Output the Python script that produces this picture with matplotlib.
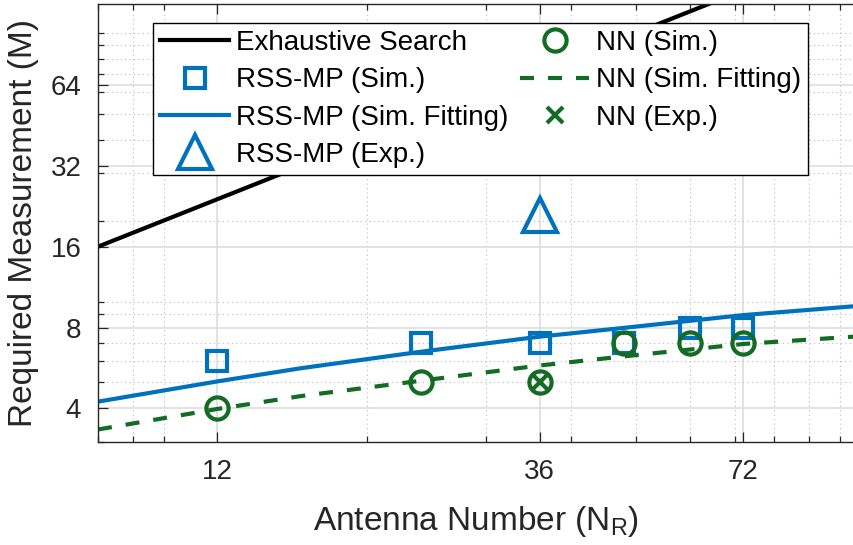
import numpy as np
import matplotlib
matplotlib.use('Agg')
import matplotlib.pyplot as plt
from matplotlib.ticker import FixedLocator, FixedFormatter, LogLocator, NullFormatter

plt.rcParams['font.family'] = ['Liberation Sans', 'DejaVu Sans']
plt.rcParams['mathtext.fontset'] = 'custom'
plt.rcParams['mathtext.rm'] = 'Liberation Sans'

# simulated points
N = [12, 24, 36, 48, 60, 72]
rss_sim = [6, 7, 7, 7, 8, 8]
nn_sim = [4, 5, 5, 7, 7, 7]

# experimental points
N_exp = [36]
rss_exp = [21]
nn_exp = [5]

# exhaustive search line
N_ex = [8, 64, 105]
M_ex = [16, 128, 210]

# fitting curves
N_fit = [8, 12, 16, 24, 36, 48, 72, 105]
rss_fit = [4.24, 5.04, 5.65, 6.5, 7.4, 7.98, 8.9, 9.6]
nn_fit = [3.34, 3.98, 4.45, 5.07, 5.78, 6.25, 6.95, 7.4]

xticks = [12, 36, 72]
yticks = [4, 8, 16, 32, 64]

cblue = '#0072bd'
cgreen = '#136b24'
cax = '#262626'

fig = plt.figure(figsize=(8.54, 5.45), dpi=100)
ax = fig.add_axes([98 / 854, 1 - 442 / 545, 756 / 854, 438 / 545])

ax.plot(N_ex, M_ex, color='k', lw=3, label='Exhaustive Search')
ax.plot(N, rss_sim, ls='none', marker='s', ms=14, mew=3, mfc='none', mec=cblue,
        label='RSS-MP (Sim.)')
ax.plot(N_fit, rss_fit, color=cblue, lw=3, label='RSS-MP (Sim. Fitting)')
ax.plot(N_exp, rss_exp, ls='none', marker='^', ms=25, mew=3, mfc='none', mec=cblue,
        label='RSS-MP (Exp.)')
ax.plot(N, nn_sim, ls='none', marker='o', ms=16, mew=3, mfc='none', mec=cgreen,
        label='NN (Sim.)')
ax.plot(N_fit, nn_fit, color=cgreen, lw=3, ls=(0, (3.36, 3.36)), label='NN (Sim. Fitting)')
ax.plot(N_exp, nn_exp, ls='none', marker='x', ms=11, mew=3, color=cgreen,
        label='NN (Exp.)')

ax.set_xscale('log')
ax.set_yscale('log')
ax.set_xlim(8, 105)
ax.set_ylim(3, 128)

ax.xaxis.set_major_locator(FixedLocator(xticks))
ax.xaxis.set_major_formatter(FixedFormatter([str(t) for t in xticks]))
ax.xaxis.set_minor_locator(LogLocator(subs=np.arange(1, 10)))
ax.xaxis.set_minor_formatter(NullFormatter())
ax.yaxis.set_major_locator(FixedLocator(yticks))
ax.yaxis.set_major_formatter(FixedFormatter([str(t) for t in yticks]))
ax.yaxis.set_minor_locator(LogLocator(subs=np.arange(1, 10)))
ax.yaxis.set_minor_formatter(NullFormatter())

ax.grid(which='major', color='#dddddd', lw=1.2, ls='-')
ax.grid(which='minor', color='#bbbbbb', lw=0.8, ls=(0, (1, 3)))
ax.set_axisbelow(True)

ax.tick_params(which='both', direction='in', top=True, right=False, colors=cax,
               labelsize=20, width=0.9)
ax.tick_params(which='major', length=7, pad=12)
ax.tick_params(which='minor', length=4)
for s in ['left', 'bottom', 'top']:
    ax.spines[s].set_color(cax)
    ax.spines[s].set_linewidth(1)
ax.spines['right'].set_visible(False)

ax.set_xlabel(r'Antenna Number (N$_\mathregular{R}$)', fontsize=24, color=cax, labelpad=14)
ax.set_ylabel('Required Measurement (M)', fontsize=24, color=cax, labelpad=8)

leg = ax.legend(ncol=2, loc='upper left', bbox_to_anchor=(153 / 854, 1 - 23 / 545),
                bbox_transform=fig.transFigure, fontsize=20, fancybox=False,
                framealpha=1, edgecolor='k', handlelength=2.5, handletextpad=0.25,
                columnspacing=0.4, labelspacing=0.41, borderpad=0.25, borderaxespad=0,
                numpoints=1)
leg.get_frame().set_linewidth(1)

fig.savefig('out.png', dpi=100)
